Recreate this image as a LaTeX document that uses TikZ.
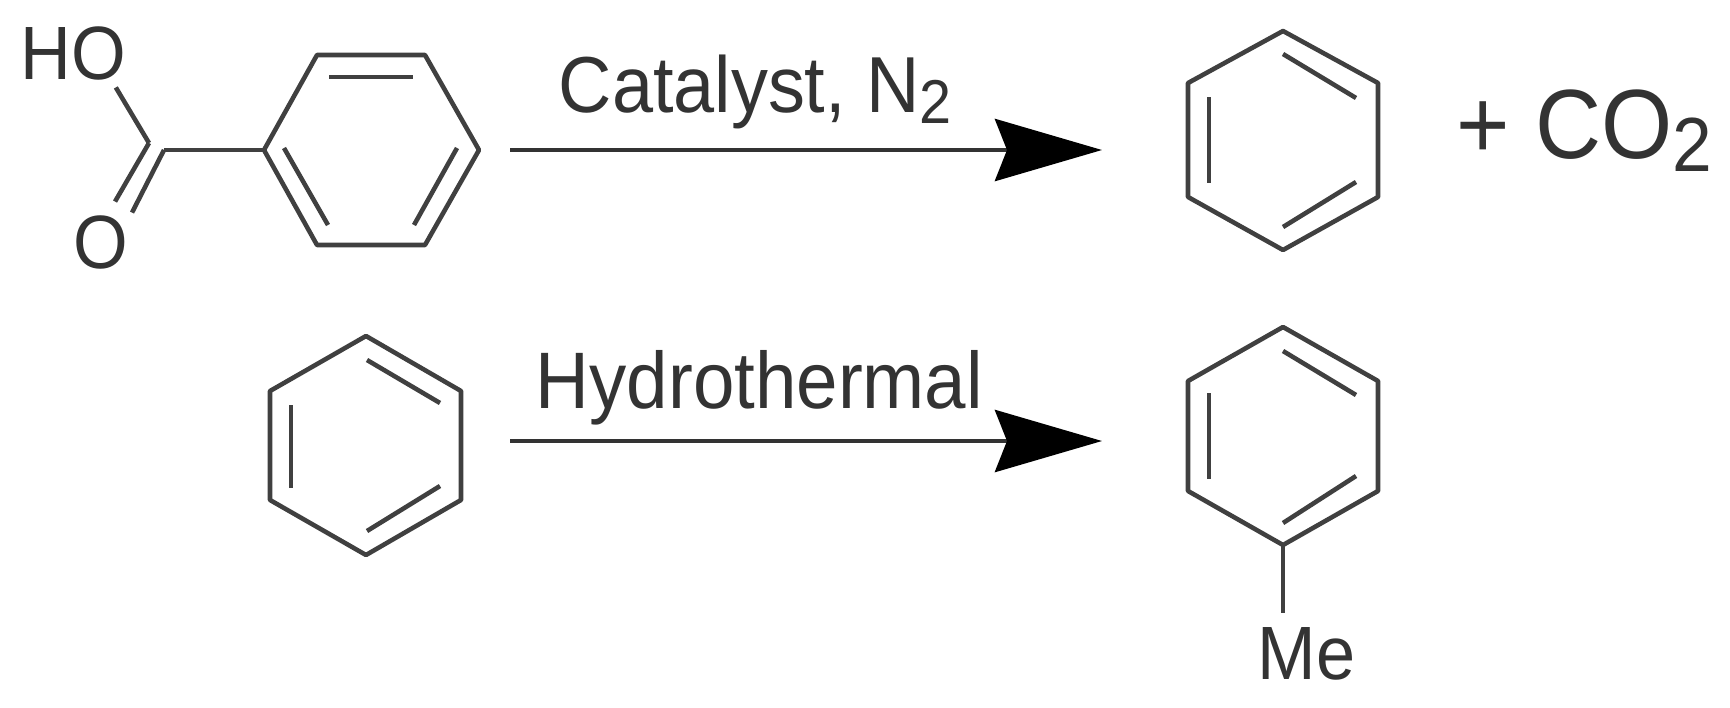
\documentclass[tikz,border=0pt]{standalone}
\usepackage{fontspec}
\usepackage{graphicx}
\setmainfont[FakeStretch=0.93]{Liberation Sans}
\usetikzlibrary{arrows.meta}
\definecolor{mycolor1}{rgb}{0.25,0.25,0.25}
\definecolor{mycolor2}{rgb}{0.2,0.2,0.2}
\newcommand{\subtwo}{\raisebox{-0.14em}{\scalebox{0.78}{2}}}
\tikzset{
  bond/.style={draw=mycolor1,line width=1.3pt,line join=round},
  chemtext/.style={text=mycolor2,inner sep=0pt,anchor=base west,font=\fontsize{21.5}{24}\selectfont},
  reaction/.style={draw=mycolor2,line width=1.4pt,-{Stealth[length=1.07cm,width=0.62cm,inset=0.12cm,color=black]}}
}
\begin{document}
\begin{tikzpicture}
\useasboundingbox (0,0) rectangle (17.30,-7.07);

% benzoic acid
\node [chemtext] (hydroxyl) at (0.20,-0.79) {HO};
\node [chemtext] (oxygen) at (0.73,-2.68) {O};
\coordinate (carbonA) at (1.49,-1.43);
\coordinate (carbonB) at (1.64,-1.50);
\coordinate (ipso) at (2.64,-1.50);
\draw [bond] (ipso) -- ++(0.53,0.95) -- ++(1.08,0) -- ++(0.54,-0.95) -- ++(-0.54,-0.95) -- ++(-1.08,0) -- cycle;
\draw [bond] (3.29,-0.77) -- ++(0.84,0);
\draw [bond] (2.84,-1.48) -- ++(0.44,-0.77);
\draw [bond] (4.57,-1.48) -- ++(-0.43,-0.77);
\draw [bond] (carbonB) -- (ipso);
\draw [bond] (carbonA) -- ([shift={(-0.11,-0.07)}]hydroxyl.south east);
\draw [bond] (carbonA) -- ([shift={(0.14,0.13)}]oxygen.north);
\draw [bond] (carbonB) -- ([shift={(0.31,0.02)}]oxygen.north);

% first reaction
\coordinate (startA) at (5.10,-1.50);
\coordinate (endA) at (11.02,-1.50);
\draw [reaction] (startA) -- (endA);
\node [chemtext,font=\fontsize{22.6}{24}\selectfont] (catalyst) at (5.58,-1.12) {Catalyst, N\subtwo};

% benzene
\draw [bond] (12.83,-0.31) -- ++(0.95,-0.52) -- ++(0,-1.14) -- ++(-0.95,-0.53) -- ++(-0.95,0.53) -- ++(0,1.14) -- cycle;
\draw [bond] (12.09,-0.97) -- ++(0,-0.86);
\draw [bond] (12.83,-0.54) -- ++(0.73,-0.44);
\draw [bond] (12.83,-2.27) -- ++(0.73,0.45);
\node [chemtext,font=\fontsize{28}{30}\selectfont] (carbondioxide) at (14.56,-1.58) {+ CO\subtwo};

% second row
\draw [bond] (3.66,-3.36) -- ++(0.95,-0.55) -- ++(0,-1.09) -- ++(-0.95,-0.55) -- ++(-0.96,0.55) -- ++(0,1.09) -- cycle;
\draw [bond] (2.91,-4.05) -- ++(0,-0.83);
\draw [bond] (3.67,-3.60) -- ++(0.73,-0.43);
\draw [bond] (3.67,-5.31) -- ++(0.73,0.45);

\coordinate (startB) at (5.10,-4.41);
\coordinate (endB) at (11.02,-4.41);
\draw [reaction] (startB) -- (endB);
\node [chemtext,font=\fontsize{22.8}{24}\selectfont] (hydrothermal) at (5.35,-4.08) {Hydrothermal};

% toluene
\coordinate (para) at (12.83,-5.45);
\draw [bond] (para) -- ++(0.95,0.54) -- ++(0,1.10) -- ++(-0.95,0.54) -- ++(-0.95,-0.54) -- ++(0,-1.10) -- cycle;
\draw [bond] (12.09,-3.93) -- ++(0,-0.86);
\draw [bond] (12.83,-3.51) -- ++(0.73,-0.44);
\draw [bond] (12.83,-5.23) -- ++(0.73,0.47);
\node [chemtext] (methyl) at (12.57,-6.79) {Me};
\draw [bond] (para) -- ([yshift=0.13cm]para |- methyl.north);
\end{tikzpicture}
\end{document}
